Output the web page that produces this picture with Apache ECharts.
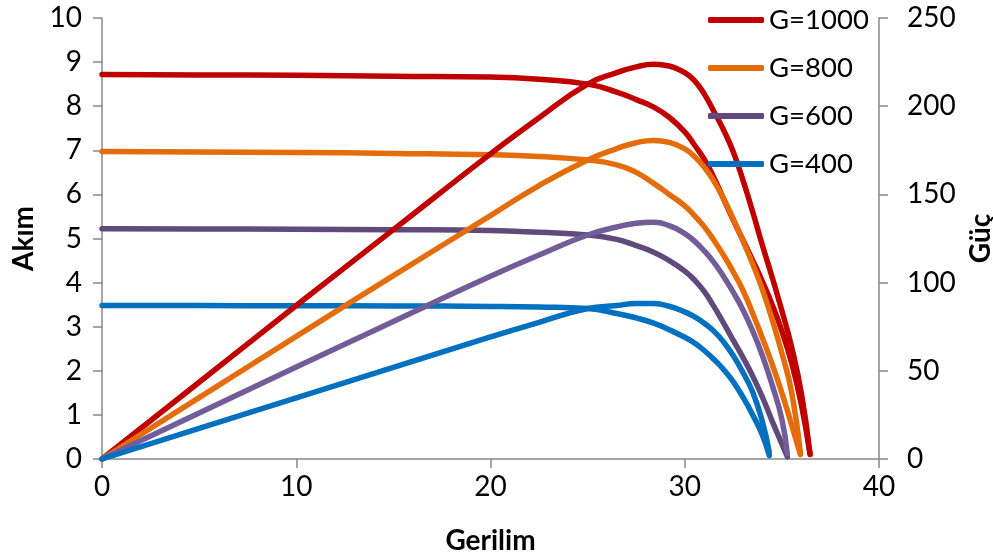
<!DOCTYPE html>
<html>
<head>
<meta charset="utf-8">
<script src="https://cdn.jsdelivr.net/npm/echarts@6/dist/echarts.min.js"></script>
<style>
html,body{margin:0;padding:0;background:#fff;}
#chart{width:993px;height:556px;}
</style>
</head>
<body>
<div id="chart"></div>
<script>
// Legend / series names
var names = ['G=1000', 'G=800', 'G=600', 'G=400'];

// Voltage grids (Gerilim) per irradiance
var v1000 = [0, 5, 10, 15, 20, 22.5, 25, 26.5, 27.5, 28.4, 29.2, 30, 30.5, 31, 31.5, 32, 32.5, 33, 33.5, 34, 34.5, 35, 35.5, 36, 36.45];
var v800  = [0, 5, 10, 15, 20, 22.5, 25, 26.5, 27.5, 28.4, 29.2, 30, 30.5, 31, 31.5, 32, 32.5, 33, 33.5, 34, 34.5, 35, 35.5, 35.95];
var v600  = [0, 5, 10, 15, 20, 22.5, 25, 26.5, 27.5, 28.4, 29.2, 30, 30.5, 31, 31.5, 32, 32.5, 33, 33.5, 34, 34.5, 35, 35.28];
var v400  = [0, 5, 10, 15, 20, 22.5, 25, 26.5, 27.5, 28.4, 29.2, 30, 30.5, 31, 31.5, 32, 32.5, 33, 33.5, 34, 34.35];

// Current (Akım)
var i1000 = [8.72, 8.71, 8.70, 8.68, 8.66, 8.61, 8.50, 8.32, 8.15, 7.98, 7.75, 7.42, 7.12, 6.80, 6.38, 5.90, 5.42, 4.96, 4.50, 4.02, 3.50, 2.90, 2.18, 1.24, 0.10];
var i800  = [6.97, 6.96, 6.95, 6.93, 6.90, 6.86, 6.78, 6.67, 6.50, 6.25, 6.00, 5.74, 5.52, 5.27, 4.96, 4.62, 4.24, 3.82, 3.30, 2.74, 2.15, 1.50, 0.78, 0.10];
var i600  = [5.22, 5.215, 5.21, 5.20, 5.18, 5.14, 5.08, 4.98, 4.84, 4.69, 4.50, 4.26, 4.06, 3.80, 3.46, 3.08, 2.69, 2.30, 1.88, 1.40, 0.86, 0.34, 0.05];
var i400  = [3.48, 3.478, 3.475, 3.47, 3.46, 3.445, 3.41, 3.30, 3.20, 3.08, 2.93, 2.76, 2.63, 2.46, 2.26, 2.03, 1.75, 1.40, 1.00, 0.54, 0.08];

// Power (Güç)
var p1000 = [0, 43.5, 87, 130, 173, 193.5, 212.5, 219, 222.3, 223.8, 222.8, 219, 214.5, 207, 197, 186.5, 174, 158, 140, 121, 103, 84, 63.5, 37.5, 3];
var p800  = [0, 34.8, 69.5, 104, 138, 155, 169.5, 176, 179.3, 180.6, 179.5, 175.8, 171.5, 165.5, 157.5, 147.5, 136, 123.5, 110.5, 96, 79, 60, 38, 4];
var p600  = [0, 26.1, 52.1, 78, 103.6, 115.6, 127, 131.5, 133.6, 134.2, 132.3, 127.8, 123.5, 118, 111.5, 103.5, 94.5, 84.5, 72.5, 58.5, 42, 22.5, 3];
var p400  = [0, 17.4, 34.7, 52, 69.2, 77.5, 85.3, 87, 88.2, 88.1, 86.6, 83.4, 80.6, 77, 72.5, 66.3, 58.5, 49, 37.8, 21, 4];

// Axis ticks
var xTicks = {min: 0, max: 40, interval: 10};
var iTicks = {min: 0, max: 10, interval: 1};
var pTicks = {min: 0, max: 250, interval: 50};

function pairs(xs, ys) { return xs.map(function (x, k) { return [x, ys[k]]; }); }

var FONT = 'Lato';
var axisCol = '#888888';

var sets = [
  {name: names[0], v: v1000, i: i1000, p: p1000, ci: '#C00000', cp: '#C00000'},
  {name: names[1], v: v800,  i: i800,  p: p800,  ci: '#E46C0A', cp: '#E46C0A'},
  {name: names[2], v: v600,  i: i600,  p: p600,  ci: '#604A7B', cp: '#725D99'},
  {name: names[3], v: v400,  i: i400,  p: p400,  ci: '#0070C0', cp: '#0070C0'}
];

var LW = 5.5;
var series = [];
sets.forEach(function (s) {
  series.push({
    name: s.name, type: 'line', xAxisIndex: 0, yAxisIndex: 0,
    data: pairs(s.v, s.i), showSymbol: false, symbol: 'none', smooth: 0.5,
    lineStyle: {color: s.ci, width: LW, cap: 'round', join: 'round'},
    itemStyle: {color: s.ci}, animation: false
  });
});
sets.forEach(function (s) {
  series.push({
    name: s.name, type: 'line', xAxisIndex: 0, yAxisIndex: 1,
    data: pairs(s.v, s.p), showSymbol: false, symbol: 'none', smooth: 0.5,
    lineStyle: {color: s.cp, width: LW, cap: 'round', join: 'round'},
    itemStyle: {color: s.cp}, animation: false
  });
});

var chart = echarts.init(document.getElementById('chart'), null, {renderer: 'canvas'});
chart.setOption({
  animation: false,
  backgroundColor: '#ffffff',
  textStyle: {fontFamily: FONT},
  grid: {left: 102, right: 114, top: 18, bottom: 97, containLabel: false, outerBoundsMode: 'none'},
  legend: {
    data: names.map(function (n) { return {name: n, icon: 'roundRect'}; }),
    orient: 'vertical', left: 703, top: -1,
    itemWidth: 56, itemHeight: 6, itemGap: 16,
    textStyle: {fontFamily: FONT, fontSize: 27.5, color: '#000', lineHeight: 32, padding: [0, 0, 0, 0]},
    selectedMode: false
  },
  xAxis: {
    type: 'value', min: xTicks.min, max: xTicks.max, interval: xTicks.interval,
    name: 'Gerilim', nameLocation: 'middle', nameGap: 68,
    nameTextStyle: {fontFamily: FONT, fontSize: 28, fontWeight: 'bold', color: '#000'},
    axisLine: {show: true, onZero: false, lineStyle: {color: axisCol, width: 1.5}},
    axisTick: {show: true, inside: false, length: 9, lineStyle: {color: axisCol, width: 1.5}},
    axisLabel: {fontFamily: FONT, fontSize: 28, color: '#000', margin: 14},
    splitLine: {show: false}
  },
  yAxis: [
    {
      type: 'value', position: 'left', min: iTicks.min, max: iTicks.max, interval: iTicks.interval,
      name: 'Akım', nameLocation: 'middle', nameGap: 64, nameRotate: 90,
      nameTextStyle: {fontFamily: FONT, fontSize: 28, fontWeight: 'bold', color: '#000'},
      axisLine: {show: true, lineStyle: {color: axisCol, width: 1.5}},
      axisTick: {show: true, inside: false, length: 9, lineStyle: {color: axisCol, width: 1.5}},
      axisLabel: {fontFamily: FONT, fontSize: 28, color: '#000', margin: 20},
      splitLine: {show: false}
    },
    {
      type: 'value', position: 'right', min: pTicks.min, max: pTicks.max, interval: pTicks.interval,
      name: 'Güç', nameLocation: 'middle', nameGap: 84, nameRotate: 90,
      nameTextStyle: {fontFamily: FONT, fontSize: 28, fontWeight: 'bold', color: '#000'},
      axisLine: {show: true, lineStyle: {color: axisCol, width: 1.5}},
      axisTick: {show: true, inside: false, length: 9, lineStyle: {color: axisCol, width: 1.5}},
      axisLabel: {fontFamily: FONT, fontSize: 28, color: '#000', margin: 28},
      splitLine: {show: false}
    }
  ],
  series: series
});
</script>
</body>
</html>
